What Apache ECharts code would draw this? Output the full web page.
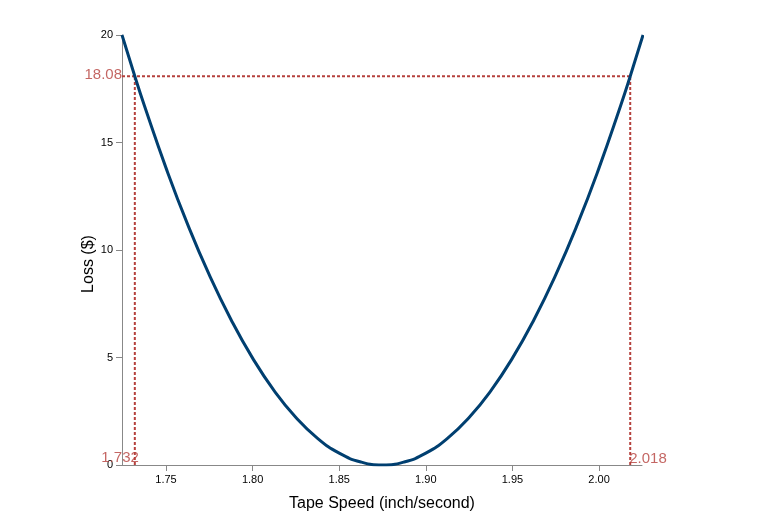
<!DOCTYPE html>
<html>
<head>
<meta charset="utf-8">
<script src="https://cdn.jsdelivr.net/npm/echarts@6/dist/echarts.min.js"></script>
<style>
  html, body { margin: 0; padding: 0; background: #fff; }
  #chart { width: 771px; height: 531px; }
</style>
</head>
<body>
<div id="chart"></div>
<script>
"use strict";
// tape speed (inch/second)
var speeds = [1.7246, 1.7320, 1.7375, 1.7500, 1.7625, 1.7750, 1.7875, 1.8000, 1.8125, 1.8250, 1.8375, 1.8500, 1.8625,
              1.8750, 1.8875, 1.9000, 1.9125, 1.9250, 1.9375, 1.9500, 1.9625, 1.9750, 1.9875, 2.0000, 2.0125, 2.0180, 2.0254];
// loss ($)
var losses = [20.0, 18.08, 16.72, 13.82, 11.19, 8.84, 6.77, 4.97, 3.45, 2.21, 1.24, 0.55, 0.14,
              0.0, 0.14, 0.55, 1.24, 2.21, 3.45, 4.97, 6.77, 8.84, 11.19, 13.82, 16.72, 18.08, 20.0];
// marked points
var lowSpeed = 1.732, highSpeed = 2.018, markLoss = 18.08;
var xMin = 1.7246, xMax = 2.0248;

var curve = speeds.map(function (s, i) { return [s, losses[i]]; });
var red = '#b5403c';
var dotted = { color: red, width: 2, type: [3, 2] };
var font = 'Liberation Sans, Arial, sans-serif';

var myChart = echarts.init(document.getElementById('chart'));
myChart.setOption({
  animation: false,
  grid: { left: 122, right: 129, top: 35, bottom: 66 },
  textStyle: { fontFamily: font },
  // y axis title sits a bit below the middle, as in the original
  graphic: [{
    type: 'text', x: 89, y: 264, rotation: Math.PI / 2,
    style: { text: 'Loss ($)', fontSize: 16, fontFamily: font, fill: '#000', align: 'center', verticalAlign: 'middle' }
  }],
  xAxis: {
    type: 'value', min: xMin, max: xMax,
    name: 'Tape Speed (inch/second)', nameLocation: 'middle', nameGap: 31,
    nameTextStyle: { fontSize: 16, color: '#000' },
    axisLine: { lineStyle: { color: '#888' } },
    axisTick: { show: true, length: 6, lineStyle: { color: '#888' } },
    axisLabel: { fontSize: 11, color: '#000', margin: 9, showMinLabel: false, showMaxLabel: false,
      formatter: function (v) { return v.toFixed(2); } },
    splitLine: { show: false }
  },
  yAxis: {
    type: 'value', min: 0, max: 20, interval: 5,
    axisLine: { show: true, lineStyle: { color: '#888' } },
    axisTick: { show: true, length: 6, lineStyle: { color: '#888' } },
    axisLabel: { fontSize: 11, color: '#000', margin: 9 },
    splitLine: { show: false }
  },
  series: [
    { type: 'line', data: [[xMin, markLoss], [highSpeed, markLoss]], symbol: 'none', lineStyle: dotted, z: 1 },
    { type: 'line', data: [[lowSpeed, 0], [lowSpeed, markLoss]], symbol: 'none', lineStyle: dotted, z: 1 },
    { type: 'line', data: [[highSpeed, 0], [highSpeed, markLoss]], symbol: 'none', lineStyle: dotted, z: 1 },
    { type: 'line', data: curve, smooth: true, symbol: 'none',
      lineStyle: { color: '#003f70', width: 3 }, z: 3 },
    { type: 'scatter', symbolSize: 0, silent: true, z: 4,
      label: { show: true, color: red, fontSize: 15, distance: 0 },
      data: [
        { value: [xMin, markLoss], label: { position: 'left', formatter: '18.08', offset: [0, -1] } },
        { value: [lowSpeed, 0], label: { position: 'left', formatter: '1.732', offset: [4, -7] } },
        { value: [highSpeed, 0], label: { position: 'right', formatter: '2.018', offset: [-1, -6] } }
      ] }
  ]
});
</script>
</body>
</html>
